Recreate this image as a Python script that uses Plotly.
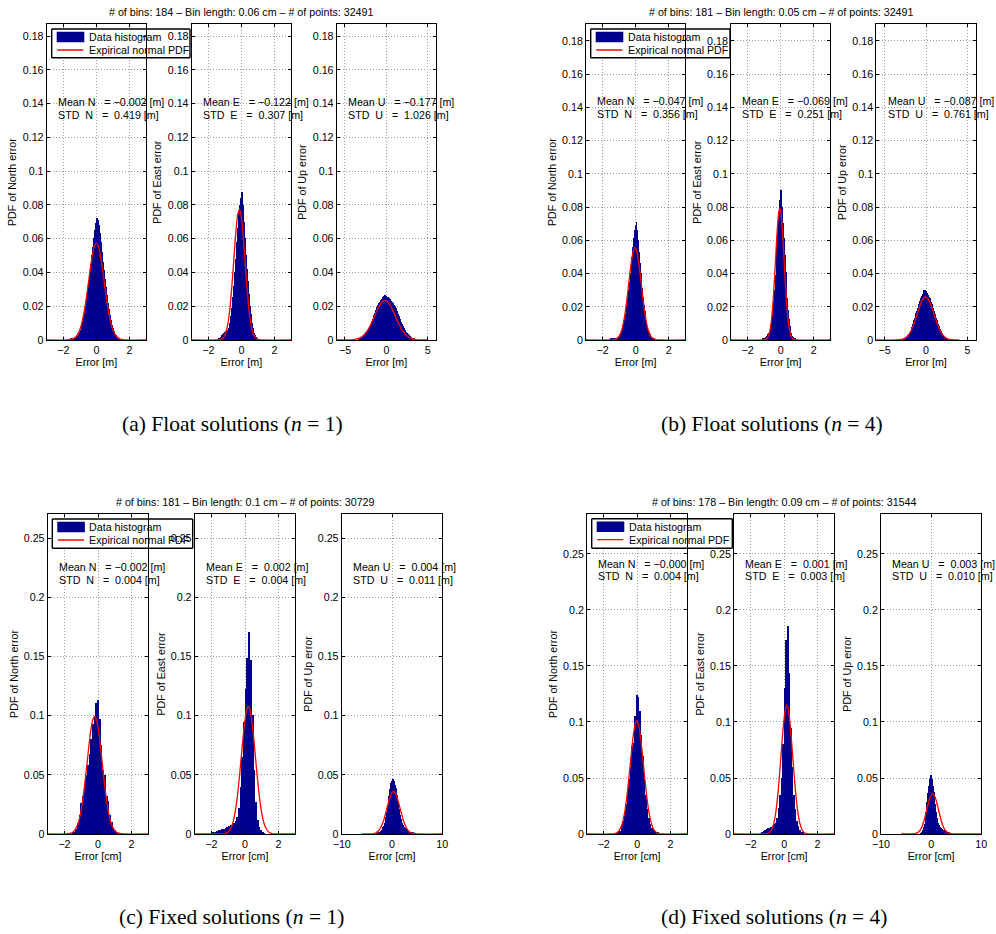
import plotly.graph_objects as go

# ------------------------------------------------------------------ data
group_titles = [
    "# of bins: 184 \u2013 Bin length: 0.06 cm \u2013 # of points: 32491",
    "# of bins: 181 \u2013 Bin length: 0.05 cm \u2013 # of points: 32491",
    "# of bins: 181 \u2013 Bin length: 0.1 cm \u2013 # of points: 30729",
    "# of bins: 178 \u2013 Bin length: 0.09 cm \u2013 # of points: 31544",
]
captions = [
    "(a) Float solutions (<i>n</i> = 1)",
    "(b) Float solutions (<i>n</i> = 4)",
    "(c) Fixed solutions (<i>n</i> = 1)",
    "(d) Fixed solutions (<i>n</i> = 4)",
]
components = ["N", "E", "U"]
y_titles = ["PDF of North error", "PDF of East error", "PDF of Up error"]
x_titles = ["Error [m]", "Error [m]", "Error [cm]", "Error [cm]"]
legend_labels = ["Data histogram", "Expirical normal PDF"]

bin_length = [0.06, 0.05, 0.1, 0.09]
mean_err = [[-0.002, -0.122, -0.177], [-0.047, -0.069, -0.087],
            [-0.002, 0.002, 0.004], [-0.000, 0.001, 0.003]]
std_err = [[0.419, 0.307, 1.026], [0.356, 0.251, 0.761],
           [0.004, 0.004, 0.011], [0.004, 0.003, 0.010]]

# centre of first histogram bin of each panel
hist_start = [[-1.68, -1.38, -3.36], [-1.50, -1.10, -2.60],
              [-1.5, -1.95, -3.0], [-1.17, -1.395, -1.98]]

# ---- histogram heights (probability per bin)
float1_N = [0.0003, 0.0004, 0.0005, 0.0007, 0.0009, 0.0011, 0.0013, 0.0016, 0.0019, 0.0024,
            0.0032, 0.0044, 0.0060, 0.0080, 0.0105, 0.0135, 0.0170, 0.0210, 0.0255, 0.0300,
            0.0350, 0.0400, 0.0450, 0.0500, 0.0550, 0.0605, 0.0650, 0.0690, 0.0720, 0.0710,
            0.0680, 0.0630, 0.0580, 0.0520, 0.0460, 0.0410, 0.0360, 0.0310, 0.0265, 0.0220,
            0.0180, 0.0145, 0.0115, 0.0090, 0.0068, 0.0050, 0.0036, 0.0026, 0.0018, 0.0012,
            0.0008, 0.0005, 0.0003, 0.0002]
float1_E = [0.0008, 0.0012, 0.0018, 0.0025, 0.0032, 0.0040, 0.0046, 0.0050, 0.0050, 0.0055,
            0.0070, 0.0100, 0.0140, 0.0190, 0.0250, 0.0320, 0.0400, 0.0480, 0.0580, 0.0660,
            0.0750, 0.0800, 0.0840, 0.0875, 0.0800, 0.0700, 0.0600, 0.0500, 0.0420, 0.0350,
            0.0270, 0.0200, 0.0150, 0.0100, 0.0070, 0.0040, 0.0025, 0.0015, 0.0008, 0.0004]
float1_U = [0.0006, 0.0007, 0.0008, 0.0009, 0.0010, 0.0011, 0.0012,
            0.0015, 0.0018, 0.0021, 0.0024, 0.0027, 0.0030, 0.0034,
            0.0038, 0.0042, 0.0047, 0.0052, 0.0057, 0.0062,
            0.0068, 0.0075, 0.0082, 0.0089, 0.0095, 0.0101, 0.0108,
            0.0116, 0.0124, 0.0132, 0.0139, 0.0146, 0.0153, 0.0161,
            0.0168, 0.0176, 0.0184, 0.0192, 0.0199, 0.0206,
            0.0211, 0.0215, 0.0220, 0.0224, 0.0230, 0.0234, 0.0240,
            0.0243, 0.0246, 0.0250, 0.0252, 0.0256,
            0.0262, 0.0265, 0.0258, 0.0260, 0.0254,
            0.0255, 0.0252, 0.0250, 0.0247, 0.0245,
            0.0243, 0.0240, 0.0236, 0.0232, 0.0228,
            0.0224, 0.0220, 0.0216, 0.0212, 0.0207, 0.0203, 0.0198,
            0.0192, 0.0185, 0.0178, 0.0170, 0.0162, 0.0154,
            0.0146, 0.0138, 0.0130, 0.0122, 0.0114, 0.0106, 0.0098,
            0.0091, 0.0085, 0.0079, 0.0073, 0.0067, 0.0061, 0.0056,
            0.0051, 0.0046, 0.0042, 0.0038, 0.0034, 0.0031,
            0.0028, 0.0025, 0.0022, 0.0019, 0.0017, 0.0015, 0.0013,
            0.0011, 0.0010, 0.0008, 0.0007, 0.0006]

float4_N = [0.0005, 0.0007, 0.0008, 0.0009, 0.0010, 0.0011, 0.0012, 0.0013, 0.0015, 0.0018,
            0.0022, 0.0030, 0.0040, 0.0053, 0.0068, 0.0086, 0.0106, 0.0128, 0.0152, 0.0180,
            0.0215, 0.0255, 0.0300, 0.0350, 0.0400, 0.0450, 0.0500, 0.0560, 0.0610, 0.0660,
            0.0690, 0.0710, 0.0660, 0.0600, 0.0530, 0.0460, 0.0400, 0.0360, 0.0310, 0.0260,
            0.0210, 0.0170, 0.0135, 0.0105, 0.0080, 0.0060, 0.0045, 0.0032, 0.0022, 0.0015,
            0.0010, 0.0007, 0.0005, 0.0003, 0.0002]
float4_E = [0.0004, 0.0006, 0.0009, 0.0012, 0.0016, 0.0022, 0.0030, 0.0036, 0.0042, 0.0050,
            0.0068, 0.0095, 0.0130, 0.0175, 0.0230, 0.0300, 0.0390, 0.0480, 0.0580, 0.0680,
            0.0770, 0.0840, 0.0900, 0.0870, 0.0800, 0.0700, 0.0610, 0.0510, 0.0410, 0.0320,
            0.0250, 0.0180, 0.0125, 0.0085, 0.0058, 0.0038, 0.0024, 0.0015, 0.0009, 0.0005,
            0.0003]
float4_U = [0.0003, 0.0004, 0.0005, 0.0006, 0.0008, 0.0010, 0.0011, 0.0013, 0.0015,
            0.0019, 0.0023, 0.0027, 0.0031, 0.0035, 0.0040,
            0.0047, 0.0055, 0.0062, 0.0070, 0.0077, 0.0085, 0.0092, 0.0100,
            0.0108, 0.0117, 0.0125, 0.0133, 0.0142, 0.0150,
            0.0158, 0.0167, 0.0175, 0.0183, 0.0192, 0.0200,
            0.0208, 0.0215, 0.0223, 0.0230, 0.0238, 0.0245,
            0.0251, 0.0257, 0.0262, 0.0268, 0.0274, 0.0280,
            0.0285, 0.0300, 0.0292, 0.0302, 0.0298, 0.0295,
            0.0290, 0.0294, 0.0284, 0.0280,
            0.0275, 0.0270, 0.0265, 0.0260, 0.0255, 0.0250,
            0.0243, 0.0236, 0.0229, 0.0221, 0.0214, 0.0207, 0.0200,
            0.0191, 0.0182, 0.0173, 0.0164, 0.0155,
            0.0147, 0.0139, 0.0131, 0.0124, 0.0116, 0.0108, 0.0100,
            0.0094, 0.0088, 0.0082, 0.0076, 0.0069, 0.0063, 0.0057, 0.0051, 0.0045,
            0.0041, 0.0036, 0.0032, 0.0028, 0.0024, 0.0020,
            0.0017, 0.0014, 0.0012, 0.0010, 0.0008, 0.0006, 0.0005, 0.0004]

fixed1_N = [0.0005, 0.0015, 0.0040, 0.0090, 0.0160, 0.0260, 0.0320, 0.0400, 0.0500, 0.0580,
            0.0680, 0.0800, 0.0930, 0.1000, 0.1110, 0.1130, 0.0970, 0.0750, 0.0540, 0.0500,
            0.0320, 0.0280, 0.0160, 0.0100, 0.0050, 0.0030, 0.0015, 0.0008]
fixed1_E = [0.0010, 0.0015, 0.0020, 0.0025, 0.0030, 0.0035, 0.0040, 0.0045, 0.0050, 0.0057,
            0.0065, 0.0072, 0.0080, 0.0090, 0.0110, 0.0140, 0.0220, 0.0400, 0.0650, 0.0950,
            0.1230, 0.1490, 0.1710, 0.1470, 0.1010, 0.0540, 0.0270, 0.0120, 0.0060, 0.0030,
            0.0015, 0.0008]
fixed1_U = [0.0003, 0.0005, 0.0007, 0.0008, 0.0010, 0.0012,
            0.0016, 0.0020, 0.0025, 0.0030, 0.0035,
            0.0045, 0.0057, 0.0069, 0.0082, 0.0095,
            0.0117, 0.0140, 0.0163, 0.0187, 0.0210,
            0.0248, 0.0285, 0.0322, 0.0360,
            0.0383, 0.0407, 0.0430,
            0.0440, 0.0450, 0.0460,
            0.0465, 0.0463,
            0.0450, 0.0430,
            0.0417, 0.0403, 0.0390,
            0.0360, 0.0330, 0.0300,
            0.0270, 0.0240, 0.0210,
            0.0187, 0.0163, 0.0140,
            0.0124, 0.0109, 0.0097, 0.0085,
            0.0078, 0.0070, 0.0063, 0.0055, 0.0048,
            0.0044, 0.0041, 0.0037, 0.0033, 0.0030,
            0.0028, 0.0025, 0.0023, 0.0020, 0.0018,
            0.0016, 0.0015, 0.0013, 0.0011, 0.0010,
            0.0009, 0.0007, 0.0006, 0.0005, 0.0004]

fixed4_N = [0.0005, 0.0012, 0.0030, 0.0065, 0.0120, 0.0180, 0.0270, 0.0380, 0.0490, 0.0600,
            0.0790, 0.0810, 0.1050, 0.1240, 0.1220, 0.1100, 0.0880, 0.0700, 0.0490, 0.0350,
            0.0220, 0.0140, 0.0090, 0.0055, 0.0035, 0.0025, 0.0015, 0.0010, 0.0005]
fixed4_E = [0.0008, 0.0015, 0.0025, 0.0035, 0.0045, 0.0052, 0.0058, 0.0065, 0.0075, 0.0085,
            0.0100, 0.0140, 0.0230, 0.0350, 0.0500, 0.0800, 0.1300, 0.1730, 0.1860, 0.1440,
            0.0950, 0.0600, 0.0350, 0.0220, 0.0120, 0.0070, 0.0040, 0.0020, 0.0010]
fixed4_U = [0.0005, 0.0012, 0.0019, 0.0026, 0.0033,
            0.0045, 0.0060, 0.0075, 0.0092,
            0.0126, 0.0158, 0.0192,
            0.0240, 0.0285, 0.0325, 0.0365,
            0.0400, 0.0430, 0.0465, 0.0490,
            0.0515, 0.0530, 0.0525,
            0.0510, 0.0490, 0.0460,
            0.0430, 0.0400, 0.0375,
            0.0345, 0.0310, 0.0270, 0.0230, 0.0195,
            0.0165, 0.0140, 0.0120, 0.0100,
            0.0088, 0.0078, 0.0069,
            0.0064, 0.0059, 0.0055, 0.0051,
            0.0048, 0.0045, 0.0042, 0.0039,
            0.0035, 0.0032, 0.0030, 0.0028,
            0.0026, 0.0024, 0.0022, 0.0020,
            0.0018, 0.0016, 0.0014, 0.0013, 0.0012,
            0.0010, 0.0009, 0.0008, 0.0007, 0.0006, 0.0005]

pdfx_float1_N = [-3.0, -1.8, -1.6, -1.4, -1.2, -1.0, -0.9, -0.8, -0.7, -0.6, -0.5, -0.4, -0.3, -0.2, -0.1,
                 0.0, 0.1, 0.2, 0.3, 0.4, 0.5, 0.6, 0.7, 0.8, 0.9, 1.0, 1.2, 1.4, 1.6, 1.8, 3.0]
pdfy_float1_N = [0, 0, 0.0002, 0.0007, 0.0022, 0.0060, 0.0092, 0.0135, 0.0189, 0.0254, 0.0326, 0.0400,
                 0.0468, 0.0524, 0.0561, 0.0574, 0.0561, 0.0524, 0.0468, 0.0400, 0.0326, 0.0254,
                 0.0189, 0.0135, 0.0092, 0.0060, 0.0022, 0.0007, 0.0002, 0, 0]
pdfx_float1_E = [-3.0, -1.52, -1.32, -1.12, -1.02, -0.92, -0.82, -0.72, -0.62, -0.52, -0.42, -0.32, -0.22,
                 -0.12, -0.02, 0.08, 0.18, 0.28, 0.38, 0.48, 0.58, 0.68, 0.78, 0.88, 1.08, 1.28, 3.0]
pdfy_float1_E = [0, 0, 0.0002, 0.0010, 0.0023, 0.0049, 0.0093, 0.0163, 0.0263, 0.0388, 0.0525, 0.0652,
                 0.0742, 0.0775, 0.0742, 0.0652, 0.0525, 0.0388, 0.0263, 0.0163, 0.0093, 0.0049,
                 0.0023, 0.0010, 0.0002, 0, 0]
pdfx_float1_U = [-6.0, -5.0, -4.17, -3.77, -3.37, -2.97, -2.57, -2.17, -1.77, -1.37, -0.97, -0.57, -0.17,
                 0.23, 0.63, 1.03, 1.43, 1.83, 2.23, 2.63, 3.03, 3.43, 3.83, 4.6, 5.0]
pdfy_float1_U = [0, 0, 0.0001, 0.0004, 0.0009, 0.0019, 0.0037, 0.0065, 0.0104, 0.0148, 0.0191, 0.0223,
                 0.0235, 0.0223, 0.0191, 0.0148, 0.0104, 0.0065, 0.0037, 0.0019, 0.0009, 0.0004,
                 0.0001, 0, 0]

pdfx_float4_N = [-3.0, -1.64, -1.44, -1.24, -1.04, -0.94, -0.84, -0.74, -0.64, -0.54, -0.44, -0.34, -0.24,
                 -0.14, -0.04, 0.06, 0.16, 0.26, 0.36, 0.46, 0.56, 0.66, 0.76, 0.86, 0.96, 1.16, 1.36,
                 1.56, 3.0]
pdfy_float4_N = [0, 0, 0.0001, 0.0004, 0.0017, 0.0034, 0.0061, 0.0102, 0.0160, 0.0234, 0.0320, 0.0407,
                 0.0484, 0.0537, 0.0556, 0.0537, 0.0484, 0.0407, 0.0320, 0.0234, 0.0160, 0.0102,
                 0.0061, 0.0034, 0.0017, 0.0004, 0.0001, 0, 0]
pdfx_float4_E = [-3.0, -1.05, -0.95, -0.85, -0.75, -0.65, -0.55, -0.50, -0.45, -0.40, -0.35, -0.30, -0.25,
                 -0.20, -0.15, -0.10, -0.05, 0.00, 0.05, 0.10, 0.15, 0.20, 0.25, 0.30, 0.35, 0.40, 0.45,
                 0.55, 0.65, 0.75, 0.85, 0.95, 3.0]
pdfy_float4_E = [0, 0, 0.0002, 0.0007, 0.0021, 0.0055, 0.0124, 0.0177, 0.0242, 0.0319, 0.0406, 0.0498,
                 0.0588, 0.0669, 0.0734, 0.0776, 0.0790, 0.0776, 0.0734, 0.0669, 0.0588, 0.0498,
                 0.0406, 0.0319, 0.0242, 0.0177, 0.0124, 0.0055, 0.0021, 0.0007, 0.0002, 0, 0]
pdfx_float4_U = [-6.0, -3.65, -3.25, -2.85, -2.45, -2.05, -1.65, -1.25, -0.85, -0.45, -0.05, 0.35, 0.75,
                 1.15, 1.55, 1.95, 2.35, 2.75, 3.15, 3.55, 4.0]
pdfy_float4_U = [0, 0, 0.0002, 0.0005, 0.0015, 0.0035, 0.0072, 0.0127, 0.0189, 0.0240, 0.0260, 0.0240,
                 0.0189, 0.0127, 0.0072, 0.0035, 0.0015, 0.0005, 0.0002, 0, 0]

pdfx_fixed1_N = [-3.0, -2.0, -1.8, -1.6, -1.4, -1.2, -1.1, -1.0, -0.9, -0.8, -0.7, -0.6, -0.5, -0.4, -0.3,
                 -0.2, -0.1, 0.0, 0.1, 0.2, 0.3, 0.4, 0.5, 0.6, 0.7, 0.8, 1.0, 1.2, 1.4, 1.6, 3.0]
pdfy_fixed1_N = [0, 0, 0.0002, 0.0008, 0.0028, 0.0084, 0.0135, 0.0205, 0.0297, 0.0409, 0.0537, 0.0670,
                 0.0797, 0.0901, 0.0971, 0.0995, 0.0971, 0.0901, 0.0797, 0.0670, 0.0537, 0.0409,
                 0.0297, 0.0205, 0.0135, 0.0084, 0.0028, 0.0008, 0.0002, 0, 0]
pdfx_fixed1_E = [-3.0, -1.6, -1.4, -1.2, -1.0, -0.8, -0.7, -0.6, -0.5, -0.4, -0.3, -0.2, -0.1, 0.0, 0.1,
                 0.2, 0.3, 0.4, 0.5, 0.6, 0.7, 0.8, 0.9, 1.0, 1.1, 1.2, 1.4, 1.6, 1.8, 2.0, 3.0]
pdfy_fixed1_E = [0, 0, 0.0001, 0.0004, 0.0018, 0.0064, 0.0109, 0.0176, 0.0269, 0.0389, 0.0532, 0.0686,
                 0.0837, 0.0964, 0.1050, 0.1080, 0.1050, 0.0964, 0.0837, 0.0686, 0.0532, 0.0389,
                 0.0269, 0.0176, 0.0109, 0.0064, 0.0018, 0.0004, 0.0001, 0, 0]
pdfx_fixed1_U = [-6.0, -4.7, -4.2, -3.7, -3.2, -2.7, -2.2, -1.7, -1.2, -0.7, -0.2, 0.3, 0.8, 1.3, 1.8,
                 2.3, 2.8, 3.3, 3.8, 4.3, 4.8, 5.3, 10.0]
pdfy_fixed1_U = [0, 0, 0.0001, 0.0003, 0.0010, 0.0025, 0.0057, 0.0110, 0.0185, 0.0268, 0.0334, 0.0360,
                 0.0334, 0.0268, 0.0185, 0.0110, 0.0057, 0.0025, 0.0010, 0.0003, 0.0001, 0, 0]

pdfx_fixed4_N = [-3.0, -1.62, -1.42, -1.22, -1.02, -0.92, -0.82, -0.72, -0.62, -0.52, -0.42, -0.32, -0.22,
                 -0.12, -0.02, 0.08, 0.18, 0.28, 0.38, 0.48, 0.58, 0.68, 0.78, 0.88, 0.98, 1.18, 1.38,
                 1.58, 3.0]
pdfy_fixed4_N = [0, 0, 0.0002, 0.0011, 0.0044, 0.0080, 0.0137, 0.0218, 0.0328, 0.0462, 0.0613, 0.0762,
                 0.0891, 0.0979, 0.1010, 0.0979, 0.0891, 0.0762, 0.0613, 0.0462, 0.0328, 0.0218,
                 0.0137, 0.0080, 0.0044, 0.0011, 0.0002, 0, 0]
pdfx_fixed4_E = [-3.0, -1.24, -1.04, -0.84, -0.74, -0.64, -0.54, -0.44, -0.34, -0.24, -0.14, -0.04, 0.06,
                 0.16, 0.26, 0.36, 0.46, 0.56, 0.66, 0.76, 0.86, 0.96, 1.06, 1.16, 1.36, 1.56, 3.0]
pdfy_fixed4_E = [0, 0, 0.0003, 0.0019, 0.0042, 0.0084, 0.0156, 0.0265, 0.0414, 0.0598, 0.0797, 0.0977,
                 0.1104, 0.1150, 0.1104, 0.0977, 0.0797, 0.0598, 0.0414, 0.0265, 0.0156, 0.0084,
                 0.0042, 0.0019, 0.0003, 0, 0]
pdfx_fixed4_U = [-6.0, -4.2, -3.7, -3.2, -2.7, -2.2, -1.7, -1.2, -0.7, -0.2, 0.3, 0.8, 1.3, 1.8, 2.3,
                 2.8, 3.3, 3.8, 4.3, 4.8, 10.0]
pdfy_fixed4_U = [0, 0, 0.0001, 0.0003, 0.0012, 0.0034, 0.0079, 0.0154, 0.0247, 0.0328, 0.0360, 0.0328,
                 0.0247, 0.0154, 0.0079, 0.0034, 0.0012, 0.0003, 0.0001, 0, 0]

hist_heights = [[float1_N, float1_E, float1_U], [float4_N, float4_E, float4_U],
                [fixed1_N, fixed1_E, fixed1_U], [fixed4_N, fixed4_E, fixed4_U]]
pdf_x = [[pdfx_float1_N, pdfx_float1_E, pdfx_float1_U], [pdfx_float4_N, pdfx_float4_E, pdfx_float4_U],
         [pdfx_fixed1_N, pdfx_fixed1_E, pdfx_fixed1_U], [pdfx_fixed4_N, pdfx_fixed4_E, pdfx_fixed4_U]]
pdf_y = [[pdfy_float1_N, pdfy_float1_E, pdfy_float1_U], [pdfy_float4_N, pdfy_float4_E, pdfy_float4_U],
         [pdfy_fixed1_N, pdfy_fixed1_E, pdfy_fixed1_U], [pdfy_fixed4_N, pdfy_fixed4_E, pdfy_fixed4_U]]

# ------------------------------------------------------------------ layout / style
W, H = 996, 934
SANS = "Liberation Sans, Arial, Helvetica, sans-serif"
SERIF = "Liberation Serif, Times New Roman, serif"
FS = 10.7
NAVY = "#00008c"
RED = "#ff0000"

PANEL_X = [[(46.7, 146.0), (191.7, 291.0), (336.7, 436.0)],
           [(586.0, 685.3), (731.0, 830.3), (876.3, 975.7)],
           [(47.7, 148.3), (194.7, 295.3), (341.7, 442.3)],
           [(587.0, 687.3), (734.0, 834.3), (881.0, 981.3)]]
PANEL_Y = [(24.3, 340.0), (24.3, 340.0), (514.0, 834.0), (514.0, 834.0)]
X_RANGES = [[(-3, 3), (-3, 3), (-6, 6)], [(-3, 3), (-3, 3), (-6, 6)],
            [(-3, 3), (-3, 3), (-10, 10)], [(-3, 3), (-3, 3), (-10, 10)]]
X_DTICK = [[2, 2, 5], [2, 2, 5], [2, 2, 10], [2, 2, 10]]
Y_TOP = [0.187, 0.19, 0.2706, 0.2857]
Y_DTICK = [0.02, 0.02, 0.05, 0.05]
STAT_Y = [(102.3, 115.3), (100.7, 114.0), (567.3, 580.3), (564.0, 576.3)]
TITLE_Y = [12.3, 12.3, 502.3, 502.3]
LEGEND_BOX = [(51.7, 29.0, 190.0, 57.7), (590.7, 29.0, 730.0, 57.7),
              (52.3, 519.0, 192.7, 548.3), (591.7, 518.7, 732.3, 548.3)]
CAPTION_POS = [(232, 424), (772, 424), (231, 917), (774, 917)]
BORDER_W = 1.4


def fx(px):
    return px / W


def fy(py):
    return 1 - py / H


def fmt_signed(v):
    s = f"{v:.3f}"
    if s.startswith("-"):
        return "\u2212" + s[1:]
    return "\u00a0" + s


fig = go.Figure()
axes = {}
shapes = []
annotations = []

common = dict(showline=True, linecolor="black", linewidth=1, mirror="ticks",
              ticks="inside", ticklen=3, tickwidth=1, tickcolor="black",
              showgrid=True, gridcolor="#9c9c9c", gridwidth=1, griddash="1px,2px",
              zeroline=False, fixedrange=True, automargin=False,
              tickfont=dict(family=SANS, size=FS, color="black"))

k = 0
for g in range(4):
    T, B = PANEL_Y[g]
    for p in range(3):
        k += 1
        s = "" if k == 1 else str(k)
        w = bin_length[g]
        h = hist_heights[g][p]
        centers = [round(hist_start[g][p] + i * w, 4) for i in range(len(h))]
        fig.add_trace(go.Bar(x=centers, y=h, width=w,
                             marker=dict(color=NAVY, line=dict(width=0)),
                             xaxis="x" + s, yaxis="y" + s, showlegend=False,
                             hoverinfo="skip"))
        fig.add_trace(go.Scatter(x=pdf_x[g][p], y=pdf_y[g][p], mode="lines",
                                 line=dict(color=RED, width=1.3, shape="spline", smoothing=0.6),
                                 xaxis="x" + s, yaxis="y" + s, showlegend=False,
                                 hoverinfo="skip"))
        L, R = PANEL_X[g][p]
        axes["xaxis" + s] = dict(domain=[fx(L), fx(R)], range=list(X_RANGES[g][p]),
                                 anchor="y" + s, tick0=0, dtick=X_DTICK[g][p],
                                 title=dict(text=x_titles[g], standoff=2,
                                            font=dict(family=SANS, size=FS, color="black")),
                                 **common)
        axes["yaxis" + s] = dict(domain=[fy(B), fy(T)], range=[0, Y_TOP[g]],
                                 anchor="x" + s, tick0=0, dtick=Y_DTICK[g],
                                 title=dict(text=y_titles[p], standoff=3,
                                            font=dict(family=SANS, size=FS, color="black")),
                                 **common)
        # statistics text
        c = components[p]
        mean_txt = f"Mean {c}\u00a0\u00a0\u00a0=\u00a0{fmt_signed(mean_err[g][p])} [m]"
        std_txt = f"STD\u00a0\u00a0{c}\u00a0\u00a0\u00a0=\u00a0\u00a0{std_err[g][p]:.3f} [m]"
        for txt, yy in ((mean_txt, STAT_Y[g][0]), (std_txt, STAT_Y[g][1])):
            annotations.append(dict(text=txt, x=fx(L + 9.3), y=fy(yy), xref="paper", yref="paper",
                                    xanchor="left", yanchor="middle", showarrow=False,
                                    font=dict(family=SANS, size=FS, color="black")))

    # group title above middle panel
    L2, R2 = PANEL_X[g][1]
    annotations.append(dict(text=group_titles[g], x=fx((L2 + R2) / 2), y=fy(TITLE_Y[g]),
                            xref="paper", yref="paper", xanchor="center", yanchor="middle",
                            showarrow=False, font=dict(family=SANS, size=FS, color="black")))
    # caption
    cx, cy = CAPTION_POS[g]
    annotations.append(dict(text=captions[g], x=fx(cx), y=fy(cy), xref="paper", yref="paper",
                            xanchor="center", yanchor="middle", showarrow=False,
                            font=dict(family=SERIF, size=21.5, color="black")))

    # ---- legend drawn over the first panel of the group
    k1 = 3 * g + 1
    s1 = "" if k1 == 1 else str(k1)
    L1, R1 = PANEL_X[g][0]
    xr0, xr1 = X_RANGES[g][0]
    ytop = Y_TOP[g]

    def dx(px, L1=L1, R1=R1, xr0=xr0, xr1=xr1):
        return xr0 + (px - L1) / (R1 - L1) * (xr1 - xr0)

    def dy(py, T=T, B=B, ytop=ytop):
        return (B - py) / (B - T) * ytop

    bl, bt, br, bb = LEGEND_BOX[g]
    inner = dict(xref="x" + s1, yref="y" + s1, layer="between")
    outer = dict(xref="paper", yref="paper", layer="below")
    shapes.append(dict(type="rect", x0=dx(bl), x1=xr1, y0=dy(bb), y1=dy(bt),
                       fillcolor="white", line=dict(width=0), **inner))
    shapes.append(dict(type="line", x0=dx(bl), x1=dx(bl), y0=dy(bb), y1=dy(bt),
                       line=dict(color="black", width=BORDER_W), **inner))
    shapes.append(dict(type="line", x0=dx(bl), x1=xr1, y0=dy(bt), y1=dy(bt),
                       line=dict(color="black", width=BORDER_W), **inner))
    shapes.append(dict(type="line", x0=dx(bl), x1=xr1, y0=dy(bb), y1=dy(bb),
                       line=dict(color="black", width=BORDER_W), **inner))
    shapes.append(dict(type="line", x0=fx(R1), x1=fx(br), y0=fy(bt), y1=fy(bt),
                       line=dict(color="black", width=BORDER_W), **outer))
    shapes.append(dict(type="line", x0=fx(R1), x1=fx(br), y0=fy(bb), y1=fy(bb),
                       line=dict(color="black", width=BORDER_W), **outer))
    shapes.append(dict(type="line", x0=fx(br), x1=fx(br), y0=fy(bb), y1=fy(bt),
                       line=dict(color="black", width=BORDER_W), **outer))
    shapes.append(dict(type="rect", x0=dx(bl + 5), x1=dx(bl + 32.6), y0=dy(bt + 13.3),
                       y1=dy(bt + 2.7), fillcolor=NAVY, line=dict(width=0), **inner))
    shapes.append(dict(type="line", x0=dx(bl + 5.6), x1=dx(bl + 31.6), y0=dy(bt + 21),
                       y1=dy(bt + 21), line=dict(color=RED, width=1.3), **inner))
    for lab, off in zip(legend_labels, (8.0, 21.0)):
        annotations.append(dict(text=lab, x=fx(bl + 35), y=fy(bt + off), xref="paper", yref="paper",
                                xanchor="left", yanchor="middle", showarrow=False,
                                font=dict(family=SANS, size=FS, color="black")))

fig.update_layout(width=W, height=H, margin=dict(l=0, r=0, t=0, b=0, pad=0, autoexpand=False),
                  autosize=False, paper_bgcolor="white", plot_bgcolor="white",
                  barmode="overlay", bargap=0, showlegend=False,
                  shapes=shapes, annotations=annotations, **axes)

fig.write_html("out.html", config={"displayModeBar": False, "responsive": False},
               post_script="document.documentElement.style.margin='0px';"
                           "document.body.style.margin='0px';")
